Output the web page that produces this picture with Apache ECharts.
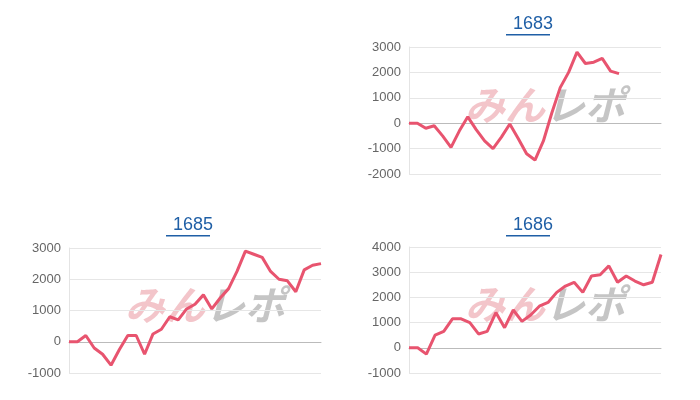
<!DOCTYPE html>
<html><head><meta charset="utf-8">
<script src="https://cdn.jsdelivr.net/npm/echarts@6/dist/echarts.min.js"></script>
<style>html,body{margin:0;padding:0;background:#fff}#c{width:700px;height:400px}</style>
</head><body><div id="c"></div>
<script>
const titles = ['1683', '1685', '1686'];
const data1683 = [0,0,-200,-100,-500,-950,-300,250,-250,-700,-1000,-550,-30,-600,-1200,-1450,-700,400,1400,2000,2800,2350,2400,2550,2050,1950];
const data1685 = [0,0,200,-200,-400,-750,-250,200,200,-400,250,400,800,700,1050,1200,1500,1050,1400,1700,2250,2900,2800,2700,2250,2000,1950,1600,2300,2450,2500];
const data1686 = [0,0,-250,500,650,1150,1150,1000,550,650,1400,800,1500,1050,1300,1650,1800,2200,2450,2600,2200,2850,2900,3250,2600,2850,2650,2500,2600,3700];
const ticks1683 = [-2000, 3000, 1000];
const ticks1685 = [-1000, 3000, 1000];
const ticks1686 = [-1000, 4000, 1000];
const cats1683 = Array.from({length:31},(_,i)=>String(i+1));
const cats1685 = Array.from({length:31},(_,i)=>String(i+1));
const cats1686 = Array.from({length:30},(_,i)=>String(i+1));

const grids = [
  {left:409, right:39, top:47, bottom:226},
  {left:69, right:379, top:248, bottom:27},
  {left:409, right:39, top:247, bottom:27}
];
const allData=[data1683,data1685,data1686], allTicks=[ticks1683,ticks1685,ticks1686], allCats=[cats1683,cats1685,cats1686];
const titlePos=[[528,24],[188,225],[528,225]];
const chart = echarts.init(document.getElementById('c'));
const graphic=[];
titlePos.forEach((p,i)=>{
  graphic.push({type:'rect',shape:{x:p[0]-22,y:p[1]+10,width:44,height:1.5},style:{fill:'#1f5fa6'}});
  const g=grids[i], cx=g.left+(700-g.left-g.right)/2;
  const cy=g.top+(400-g.top-g.bottom)/2-4;
  graphic.push({type:'text',x:cx-70,y:cy-22,z:0,style:{text:'みん',font:'italic bold 40px "Noto Sans CJK JP"',fill:'rgba(232,140,150,0.5)'}});
  graphic.push({type:'text',x:cx+10,y:cy-22,z:0,style:{text:'レポ',font:'italic bold 40px "Noto Sans CJK JP"',fill:'rgba(150,150,150,0.55)'}});
});
chart.setOption({
  animation:false,
  title: titles.map((t,i)=>({text:t,left:titlePos[i][0],top:titlePos[i][1]-14,textAlign:'center',textStyle:{color:'#1f5fa6',fontSize:18,fontWeight:'normal',fontFamily:'Arial, Liberation Sans'}})),
  grid: grids,
  xAxis: allCats.map((c,i)=>({type:'category',gridIndex:i,data:c,boundaryGap:false,axisLabel:{show:false},axisTick:{show:false},axisLine:{onZero:true,lineStyle:{color:'#bbb'}}})),
  yAxis: allTicks.map((t,i)=>({type:'value',gridIndex:i,min:t[0],max:t[1],interval:t[2],axisLabel:{color:'#666',fontSize:13,fontFamily:'Arial, Liberation Sans',formatter:v=>String(v)},axisLine:{show:true,lineStyle:{color:'#e4e4e4'}},splitLine:{lineStyle:{color:'#e6e6e6'}}})),
  series: allData.map((d,i)=>({type:'line',xAxisIndex:i,yAxisIndex:i,data:d,symbol:'none',z:5,lineStyle:{color:'#e8546f',width:3}})),
  graphic: graphic
});
</script></body></html>
